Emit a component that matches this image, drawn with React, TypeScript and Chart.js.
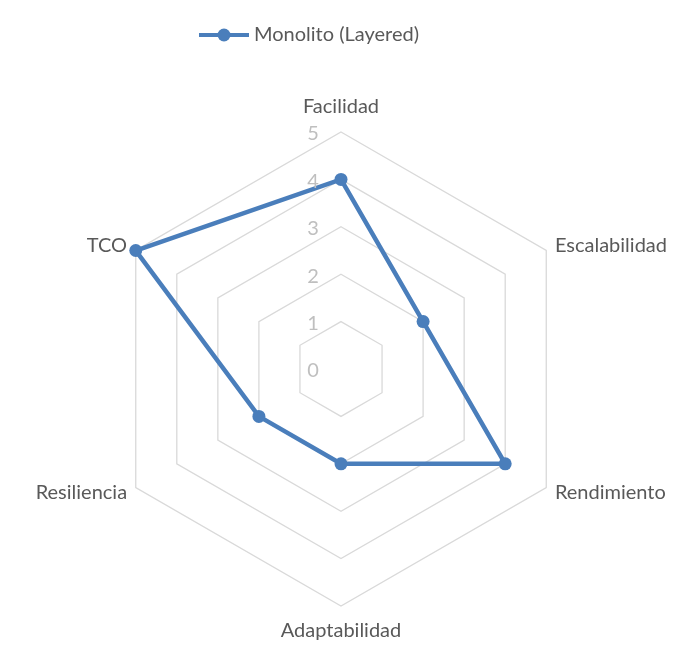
import { useEffect, useRef } from "react";
import { Chart, registerables, type ChartConfiguration, type Plugin } from "chart.js";

Chart.register(...registerables);

const CATEGORIES = ["Facilidad", "Escalabilidad", "Rendimiento", "Adaptabilidad", "Resiliencia", "TCO"];
const SERIES_NAME = "Monolito (Layered)";
const SERIES_VALUES = [4, 2, 4, 2, 2, 5];
const TICK_VALUES = [0, 1, 2, 3, 4, 5];

const BLUE = "#4a7ebb";
const TEXT = "#595959";
const FONT = "Lato, 'Open Sans', sans-serif";

// ticks are drawn left of the vertical axis, like Excel does
const excelTicks: Plugin<"radar"> = {
  id: "excelTicks",
  afterDraw(chart) {
    const scale: any = chart.scales.r;
    const ctx = chart.ctx;
    ctx.save();
    ctx.font = `20px ${FONT}`;
    ctx.fillStyle = "#bfbfbf";
    ctx.textAlign = "center";
    ctx.textBaseline = "middle";
    TICK_VALUES.forEach(v => {
      const d = scale.getDistanceFromCenterForValue(v);
      ctx.fillText(String(v), scale.xCenter - 28, scale.yCenter - d + 2);
    });

    // category labels round the outer ring
    ctx.fillStyle = TEXT;
    CATEGORIES.forEach((label, i) => {
      const a = scale.getIndexAngle(i);
      const s = Math.sin(a);
      if (Math.abs(s) < 0.01) {
        const p = scale.getPointPosition(i, scale.drawingArea + 25);
        ctx.textAlign = "center";
        ctx.fillText(label, p.x, p.y);
      } else {
        const p = scale.getPointPosition(i, scale.drawingArea + 10);
        ctx.textAlign = s > 0 ? "left" : "right";
        ctx.fillText(label, p.x, p.y);
      }
    });
    ctx.restore();
  },
};

// line + marker legend, Excel style
const excelLegend: Plugin<"radar"> = {
  id: "excelLegend",
  afterDraw(chart) {
    const ctx = chart.ctx;
    const ds = chart.data.datasets[0];
    const y = 35;
    ctx.save();
    ctx.strokeStyle = BLUE;
    ctx.lineWidth = 4;
    ctx.beginPath();
    ctx.moveTo(199, y);
    ctx.lineTo(249, y);
    ctx.stroke();
    ctx.fillStyle = BLUE;
    ctx.beginPath();
    ctx.arc(224, y, 6.5, 0, Math.PI * 2);
    ctx.fill();
    ctx.font = `20px ${FONT}`;
    ctx.fillStyle = TEXT;
    ctx.textAlign = "left";
    ctx.textBaseline = "middle";
    ctx.fillText(String(ds.label), 254, y);
    ctx.restore();
  },
};

export default function App() {
  const canvasRef = useRef<HTMLCanvasElement>(null);

  useEffect(() => {
    document.body.style.margin = "0";
    if (!canvasRef.current) return;

    const config: ChartConfiguration<"radar"> = {
      type: "radar",
      data: {
        labels: CATEGORIES,
        datasets: [
          {
            label: SERIES_NAME,
            data: SERIES_VALUES,
            borderColor: BLUE,
            backgroundColor: "transparent",
            borderWidth: 4.5,
            pointRadius: 6.5,
            pointBackgroundColor: BLUE,
            pointBorderColor: BLUE,
            pointBorderWidth: 0,
            fill: false,
            tension: 0,
          },
        ],
      },
      options: {
        responsive: false,
        animation: false,
        layout: { padding: { left: 104, right: 121, top: 132, bottom: 56 } },
        plugins: {
          legend: { display: false },
          tooltip: { enabled: false },
        },
        scales: {
          r: {
            min: 0,
            max: 5,
            ticks: { stepSize: 1, display: false },
            grid: { color: "#d9d9d9", lineWidth: 1.3 },
            angleLines: { display: false },
            pointLabels: { display: false },
          },
        },
      },
      plugins: [excelTicks, excelLegend],
    };

    const chart = new Chart(canvasRef.current, config);
    return () => chart.destroy();
  }, []);

  return (
    <div style={{ width: 699, height: 662, background: "#fff" }}>
      <canvas ref={canvasRef} width={699} height={662} style={{ width: 699, height: 662, display: "block" }} />
    </div>
  );
}
